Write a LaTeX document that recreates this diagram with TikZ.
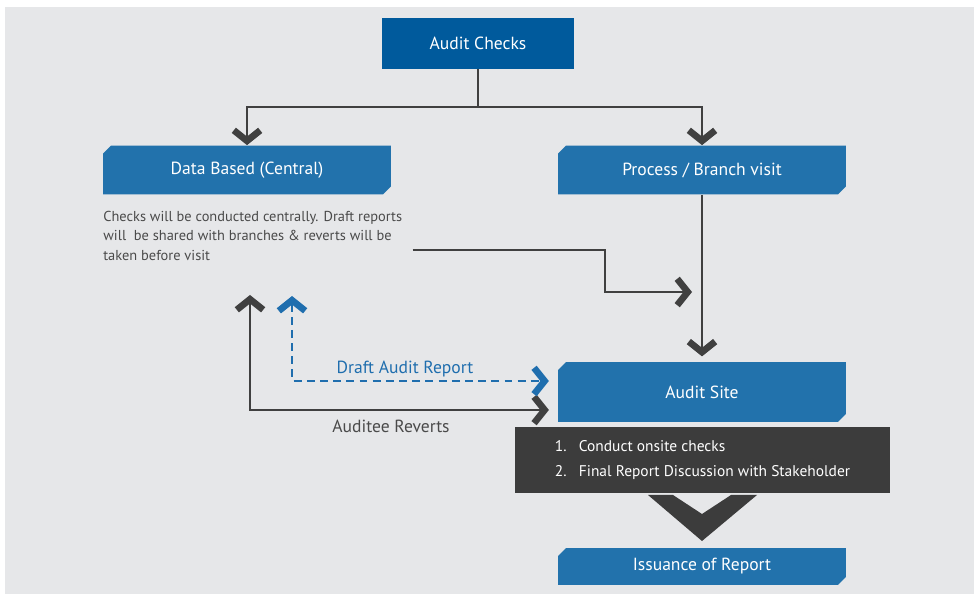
\documentclass[tikz,border=0pt]{standalone}
\usepackage{fontspec}
\setmainfont{PT Sans}
\usetikzlibrary{arrows.meta,shapes.misc}
\definecolor{navy}{HTML}{005A9C}
\definecolor{boxblue}{HTML}{2272AC}
\definecolor{slate}{HTML}{3C3C3C}
\definecolor{linegray}{HTML}{404040}
\definecolor{textgray}{HTML}{4A4A4A}
\definecolor{pagegray}{HTML}{E6E7E9}
\definecolor{dashblue}{HTML}{1F6EAE}
\begin{document}
\begin{tikzpicture}[
  x=0.02cm,y=-0.02cm,every node/.style={font=\fontsize{10}{12}\selectfont},
  >={Straight Barb[length=6pt,width=15pt,line width=3.8pt]},
  link/.style={draw=linegray,line width=1.1pt},
  draftline/.style={draw=dashblue,line width=1.1pt,dash pattern=on 4.5pt off 3pt},
  topbox/.style={fill=navy,text=white,minimum width=3.84cm,minimum height=1.02cm},
  stepbox/.style={chamfered rectangle,
    chamfered rectangle corners={north west,south east},
    chamfered rectangle xsep=2.8pt,chamfered rectangle ysep=1.8pt,
    fill=boxblue,text=white,minimum width=5.76cm,inner sep=0pt}]
  % page and its grey panel
  \useasboundingbox (0,0) rectangle (974,594);
  \fill[pagegray] (5,7) rectangle (974,594);

  \node[topbox] (checks) at (478,43.5) {Audit Checks};
  \node[stepbox,minimum height=0.98cm] (central) at (247,170) {Data Based (Central)};
  \node[stepbox,minimum height=0.98cm] (branch) at (702,170) {Process / Branch visit};
  \node[stepbox,minimum height=1.2cm] (site) at (702,392) {Audit Site};
  \node[stepbox,minimum height=0.74cm] (issue) at (702,566.5) {Issuance of Report};

  \node[anchor=north west,align=left,text=textgray,inner sep=0pt,
    font=\fontsize{8.2}{11}\selectfont] (note) at (103,211)
    {Checks will be conducted centrally. Draft reports\\
     will\ \ be shared with branches \& reverts will be\\
     taken before visit};

  \node[fill=slate,text=white,minimum width=7.5cm,minimum height=1.32cm,
    font=\fontsize{8.8}{11}\selectfont] (onsite)
    at (702.5,460) {\begin{tabular}{@{}l@{\hspace{7pt}}l@{}}
      1.&Conduct onsite checks\\[3pt]
      2.&Final Report Discussion with Stakeholder\end{tabular}};
  \fill[slate] (648,495) -- (673,495) -- (702,514) -- (731,495) -- (757,495)
    -- (702,541) -- cycle;

  % split from the top box
  \draw[link,->] (checks.south) -- ++(0,38) -| (central.north);
  \draw[link,->] (checks.south) -- ++(0,38) -| (branch.north);
  \draw[link,->,shorten >=3pt] (branch.south) -- (site.north);

  % note feeds into the visit line
  \coordinate (feed) at (692,292);
  \draw[link,->] ([shift={(10,14)}]note.east) -- ++(192,0) |- (feed);

  % two-way links between desk review and site
  \coordinate (revUp) at (250,295);
  \coordinate (draftUp) at (292,296);
  \draw[link,<->,shorten >=5pt] (revUp) |- ([yshift=-0.36cm]site.west);
  \draw[draftline,<->,shorten >=5pt] (draftUp) |- ([yshift=0.22cm]site.west);
  \node[text=dashblue] (draftlbl) at (405,369) {Draft Audit Report};
  \node[text=textgray] (revlbl) at (391,426) {Auditee Reverts};
\end{tikzpicture}
\end{document}
